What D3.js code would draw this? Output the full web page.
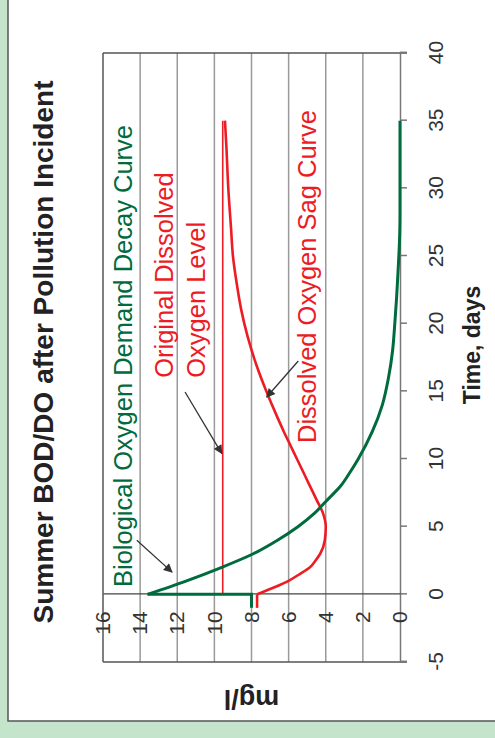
<!DOCTYPE html>
<html><head><meta charset="utf-8">
<script src="https://cdn.jsdelivr.net/npm/d3@7"></script>
<style>html,body{margin:0;padding:0;background:#c5e4cc;} svg{display:block;}</style>
</head><body>
<svg id="chart" width="495" height="738"></svg>
<script>
// ---- data ----
const dayTicks = [-5, 0, 5, 10, 15, 20, 25, 30, 35, 40];
const mgTicks = [0, 2, 4, 6, 8, 10, 12, 14, 16];

// Biological Oxygen Demand decay curve (days, mg/l)
const bodDays   = [-1, 0, 0, 1, 2, 3, 4, 5, 6, 7, 8, 9, 10, 12, 14, 16, 18, 20, 22, 24, 26, 28, 30, 35];
const bodValues = [8.0, 8.0, 13.6, 11.5, 9.6, 7.9, 6.6, 5.5, 4.6, 3.9, 3.2, 2.7, 2.25, 1.5, 0.95, 0.62, 0.4, 0.28, 0.18, 0.1, 0.03, 0.0, 0.0, 0.0];

// Dissolved oxygen sag curve
const doDays   = [-1, 0, 0.5, 1, 1.5, 2, 2.5, 3, 4, 5, 6, 7, 8, 9, 10, 11, 12, 13, 15, 17, 19, 21, 23, 25, 27, 30, 33, 35];
const doValues = [7.7, 7.7, 6.8, 6.0, 5.4, 4.85, 4.55, 4.3, 4.05, 4.0, 4.15, 4.5, 4.85, 5.2, 5.55, 5.9, 6.25, 6.58, 7.2, 7.75, 8.2, 8.55, 8.8, 9.0, 9.1, 9.25, 9.35, 9.43];

// Original dissolved oxygen level
const levelDays   = [0, 35];
const levelValues = [9.55, 9.55];

// annotation texts
const labelTexts = ["Biological Oxygen Demand Decay Curve", "Original Dissolved", "Oxygen Level", "Dissolved Oxygen Sag Curve"];

// ---- layout ----
const W = 738, H = 495; // unrotated frame
const plot = {left: 76, right: 685, top: 103, bottom: 400};
const green = "#006b3c", red = "#ed1c24";

const svg = d3.select("#chart");
// panel
svg.append("rect").attr("x", 0).attr("y", 0).attr("width", 495).attr("height", 738).attr("fill", "#c5e4cc");
svg.append("rect").attr("x", 8).attr("y", -5).attr("width", 500).attr("height", 726)
  .attr("fill", "#fff").attr("stroke", "#555").attr("stroke-width", 1.5);

const g = svg.append("g").attr("transform", `translate(0,${W}) rotate(-90)`);

const x = d3.scaleLinear().domain([-5, 40]).range([plot.left, plot.right]);
const y = d3.scaleLinear().domain([0, 16]).range([plot.bottom, plot.top]);

// gridlines
g.append("g").selectAll("line").data(mgTicks.filter(v => v > 0 && v < 16)).join("line")
  .attr("x1", plot.left).attr("x2", plot.right).attr("y1", d => y(d)).attr("y2", d => y(d))
  .attr("stroke", "#9a9a9a").attr("stroke-width", 1.5);

// frame
const frame = g.append("g").attr("stroke", "#555").attr("stroke-width", 1.5).attr("fill", "none");
frame.append("line").attr("x1", plot.left).attr("x2", plot.right).attr("y1", y(16)).attr("y2", y(16));
frame.append("line").attr("x1", plot.left).attr("x2", plot.left).attr("y1", y(16)).attr("y2", y(0) + 7);
frame.append("line").attr("x1", plot.right).attr("x2", plot.right).attr("y1", y(16)).attr("y2", y(0) + 7);

const fmt = d => String(d);

// x axis (days) at mg = 0
const xAxis = g.append("g").attr("transform", `translate(0,${y(0)})`)
  .call(d3.axisBottom(x).tickValues(dayTicks).tickSize(7).tickPadding(21).tickFormat(fmt));
xAxis.select(".domain").attr("stroke", "#777").attr("stroke-width", 1.5);
xAxis.selectAll(".tick line").attr("stroke", "#777").attr("stroke-width", 1.5);
xAxis.selectAll("text").attr("font-family", "Liberation Sans, Arial, sans-serif").attr("font-size", 21).attr("fill", "#333");

// y axis at day 0
const yAxis = g.append("g").attr("transform", `translate(${x(0)},0)`)
  .call(d3.axisLeft(y).tickValues(mgTicks).tickSize(0).tickPadding(17).tickFormat(fmt));
yAxis.select(".domain").attr("stroke", "#444").attr("stroke-width", 1.2);
yAxis.selectAll("text").attr("font-family", "Liberation Sans, Arial, sans-serif").attr("font-size", 21).attr("fill", "#333");

// series
const lin = d3.line().x(d => x(d[0])).y(d => y(d[1]));
const smooth = d3.line().x(d => x(d[0])).y(d => y(d[1])).curve(d3.curveMonotoneX);
const bodPts = bodDays.map((d, i) => [d, bodValues[i]]);
const doPts = doDays.map((d, i) => [d, doValues[i]]);
const levelPts = levelDays.map((d, i) => [d, levelValues[i]]);

g.append("path").attr("d", lin(levelPts)).attr("fill", "none").attr("stroke", red).attr("stroke-width", 1.6);
g.append("path").attr("d", lin(doPts.slice(0, 2))).attr("fill", "none").attr("stroke", red).attr("stroke-width", 2.6);
g.append("path").attr("d", smooth(doPts.slice(1))).attr("fill", "none").attr("stroke", red).attr("stroke-width", 2.6).attr("stroke-linejoin", "round");
g.append("path").attr("d", lin(bodPts.slice(0, 3))).attr("fill", "none").attr("stroke", green).attr("stroke-width", 3);
g.append("path").attr("d", smooth(bodPts.slice(2))).attr("fill", "none").attr("stroke", green).attr("stroke-width", 3).attr("stroke-linejoin", "round");

// arrows
const defs = svg.append("defs");
defs.append("marker").attr("id", "arr").attr("viewBox", "0 0 10 10").attr("refX", 9).attr("refY", 5)
  .attr("markerWidth", 11).attr("markerHeight", 9).attr("markerUnits", "userSpaceOnUse").attr("orient", "auto")
  .append("path").attr("d", "M0,0 L10,5 L0,10 Z").attr("fill", "#333");
const arrows = [
  {from: [3.99, 14.18], to: [1.64, 12.28]},
  {from: [14.95, 11.58], to: [10.4, 9.6]},
  {from: [17.24, 5.48], to: [14.58, 7.18]}
];
g.append("g").selectAll("line").data(arrows).join("line")
  .attr("x1", d => x(d.from[0])).attr("y1", d => y(d.from[1]))
  .attr("x2", d => x(d.to[0])).attr("y2", d => y(d.to[1]))
  .attr("stroke", "#333").attr("stroke-width", 1.3).attr("marker-end", "url(#arr)");

// annotation labels
const labels = [
  {text: labelTexts[0], day: 0.54, mg: 14.44, color: green},
  {text: labelTexts[1], day: 16.0, mg: 12.23, color: red},
  {text: labelTexts[2], day: 16.0, mg: 10.5, color: red},
  {text: labelTexts[3], day: 11.18, mg: 4.53, color: red}
];
g.append("g").selectAll("text").data(labels).join("text")
  .attr("x", d => x(d.day)).attr("y", d => y(d.mg))
  .attr("fill", d => d.color).attr("font-family", "Liberation Sans, Arial, sans-serif").attr("font-size", 25.5)
  .text(d => d.text);

// titles
g.append("text").attr("x", 386).attr("y", 53).attr("text-anchor", "middle")
  .attr("font-family", "Liberation Sans, Arial, sans-serif").attr("font-weight", "bold").attr("font-size", 28).attr("fill", "#222")
  .text("Summer BOD/DO after Pollution Incident");
g.append("text").attr("x", 393).attr("y", 480).attr("text-anchor", "middle")
  .attr("font-family", "Liberation Sans, Arial, sans-serif").attr("font-weight", "bold").attr("font-size", 23).attr("fill", "#222")
  .text("Time, days");
g.append("text").attr("transform", `translate(48,${(plot.top + plot.bottom) / 2}) rotate(-90)`).attr("text-anchor", "middle")
  .attr("font-family", "Liberation Sans, Arial, sans-serif").attr("font-weight", "bold").attr("font-size", 27).attr("fill", "#222")
  .text("mg/l");
</script>
</body></html>
